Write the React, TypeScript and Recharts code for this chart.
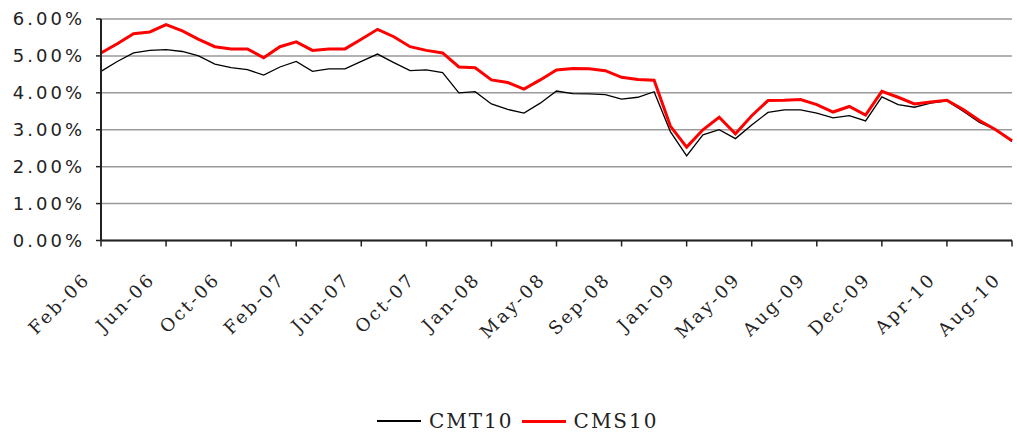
import { CartesianGrid, Legend, Line, LineChart, XAxis, YAxis } from "recharts";

// month labels, one per observation (ticks show every 4th)
const months = [
  "Feb-06", "Mar-06", "Apr-06", "May-06", "Jun-06", "Jul-06", "Aug-06", "Sep-06",
  "Oct-06", "Nov-06", "Dec-06", "Jan-07", "Feb-07", "Mar-07", "Apr-07", "May-07",
  "Jun-07", "Jul-07", "Aug-07", "Sep-07", "Oct-07", "Nov-07", "Dec-07", "Dec-07",
  "Jan-08", "Feb-08", "Mar-08", "Apr-08", "May-08", "Jun-08", "Jul-08", "Aug-08",
  "Sep-08", "Oct-08", "Nov-08", "Dec-08", "Jan-09", "Feb-09", "Mar-09", "Apr-09",
  "May-09", "Jun-09", "Jul-09", "Jul-09", "Aug-09", "Sep-09", "Oct-09", "Nov-09",
  "Dec-09", "Jan-10", "Feb-10", "Mar-10", "Apr-10", "May-10", "Jun-10", "Jul-10",
  "Aug-10",
];

const cmt10 = [
  4.58, 4.85, 5.08, 5.15, 5.17, 5.12, 5.0, 4.78, 4.68, 4.63, 4.48, 4.7, 4.85, 4.58, 4.65,
  4.65, 4.85, 5.05, 4.82, 4.6, 4.62, 4.55, 4.0, 4.03, 3.7, 3.55, 3.45, 3.72, 4.05, 3.98,
  3.97, 3.95, 3.83, 3.88, 4.03, 2.95, 2.29, 2.86, 3.0, 2.76, 3.13, 3.47, 3.54, 3.54, 3.45,
  3.32, 3.38, 3.24, 3.89, 3.68, 3.61, 3.72, 3.78, 3.5, 3.2, 3.0, 2.68,
];

const cms10 = [
  5.08, 5.33, 5.6, 5.65, 5.85, 5.68, 5.45, 5.25, 5.19, 5.19, 4.95, 5.25, 5.38, 5.15, 5.19,
  5.19, 5.45, 5.72, 5.52, 5.25, 5.15, 5.08, 4.7, 4.68, 4.35, 4.28, 4.1, 4.35, 4.62, 4.66,
  4.65, 4.6, 4.42, 4.36, 4.34, 3.1, 2.53, 3.0, 3.34, 2.89, 3.38, 3.79, 3.8, 3.82, 3.68,
  3.48, 3.63, 3.4, 4.04, 3.88, 3.7, 3.75, 3.8, 3.55, 3.25, 3.0, 2.7,
];

const yTicks = [0, 1, 2, 3, 4, 5, 6];

const series = [
  { key: "cmt10", name: "CMT10", color: "#000000", width: 1.3 },
  { key: "cms10", name: "CMS10", color: "#ff0000", width: 3 },
];

const data = months.map((month, i) => ({ month, cmt10: cmt10[i], cms10: cms10[i] }));

function DateTick({ x, y, payload }: any) {
  return (
    <g transform={`translate(${x - 10},${y + 32})`}>
      <text
        x={0}
        y={0}
        textAnchor="end"
        transform="rotate(-45)"
        fontFamily="DejaVu Serif"
        fontSize={18}
        letterSpacing={2.5}
        fill="#222"
      >
        {payload.value}
      </text>
    </g>
  );
}

function SeriesLegend() {
  return (
    <div
      style={{
        height: 30,
        display: "flex",
        alignItems: "center",
        paddingLeft: 377,
        fontFamily: "DejaVu Serif",
        fontSize: 20,
        letterSpacing: 2,
        color: "#222",
      }}
    >
      {series.map((s) => (
        <span key={s.key} style={{ display: "flex", alignItems: "center", marginRight: 8 }}>
          <span
            style={{
              display: "inline-block",
              width: 44,
              height: s.width,
              background: s.color,
              marginRight: 8,
            }}
          />
          {s.name}
        </span>
      ))}
    </div>
  );
}

export default function App() {
  return (
    <div style={{ position: "absolute", left: 0, top: 0, background: "#fff" }}>
      <LineChart
        width={1017}
        height={436}
        data={data}
        margin={{ top: 19, right: 5, left: 0, bottom: 0 }}
      >
        <CartesianGrid vertical={false} stroke="#9a9a9a" strokeWidth={1.5} />
        <XAxis
          dataKey="month"
          interval={3}
          height={165.5}
          tickSize={6}
          tick={<DateTick />}
          axisLine={{ stroke: "#222", strokeWidth: 2 }}
          tickLine={{ stroke: "#222", strokeWidth: 1.5 }}
        />
        <YAxis
          domain={[0, 6]}
          ticks={yTicks}
          width={101}
          tickSize={5}
          tickMargin={11}
          tickFormatter={(v: number) => `${v.toFixed(2)}%`}
          tick={{ fontFamily: "DejaVu Sans", fontSize: 18, letterSpacing: 3, fill: "#222" }}
          axisLine={{ stroke: "#222", strokeWidth: 2 }}
          tickLine={{ stroke: "#222", strokeWidth: 1.5 }}
        />
        <Legend
          verticalAlign="bottom"
          content={<SeriesLegend />}
          wrapperStyle={{ left: 0, width: 1017 }}
        />
        {series.map((s) => (
          <Line
            key={s.key}
            type="linear"
            dataKey={s.key}
            name={s.name}
            stroke={s.color}
            strokeWidth={s.width}
            dot={false}
            isAnimationActive={false}
          />
        ))}
      </LineChart>
    </div>
  );
}
